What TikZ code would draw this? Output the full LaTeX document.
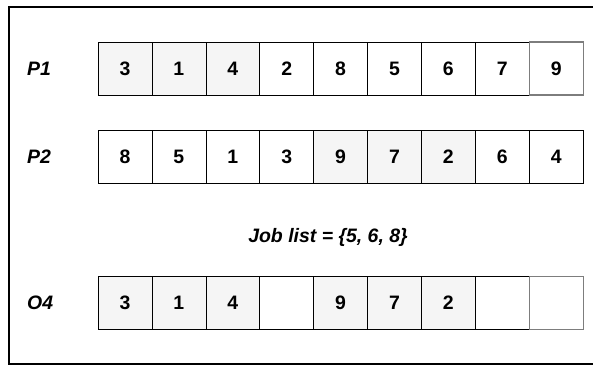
\documentclass[tikz,border=0pt]{standalone}
\usepackage{fontspec}
\setmainfont{Liberation Sans}
\definecolor{donec}{RGB}{245,245,245}
\definecolor{edgec}{RGB}{125,125,125}

\begin{document}
\begin{tikzpicture}[x=0.03cm,y=-0.03cm,font=\fontsize{16.6}{19}\selectfont\bfseries,
  cell/.style={draw=black,line width=0.6pt,minimum width=1.617cm,minimum height=1.59cm,inner sep=0pt},
  kept/.style={cell,fill=donec},
  loose/.style={cell,draw=edgec,line width=0.9pt},
  rowlabel/.style={anchor=west,inner sep=0pt,font=\fontsize{16.6}{19}\selectfont\bfseries\itshape}]
\useasboundingbox (0,0) rectangle (593,366);

% frame, open on the right
\draw[line width=2pt] (593,7) -- (9,7) -- (9,364) -- (593,364);

%================= parents =================
\node[rowlabel] (lp1) at (27,68.5) {P1};
\foreach \v/\s [count=\i] in {3/kept,1/kept,4/kept,2/cell,8/cell,5/cell,6/cell,7/cell,9/loose}{
  \node[\s] (p1c\i) at ({71.1+53.9*\i},68.5) {\v};}

\node[rowlabel] (lp2) at (27,156.5) {P2};
\foreach \v/\s [count=\i] in {8/cell,5/cell,1/cell,3/cell,9/kept,7/kept,2/kept,6/cell,4/cell}{
  \node[\s] (p2c\i) at ({71.1+53.9*\i},156.5) {\v};}

\node (jobs) at (328,237) {\itshape Job list = \{5, 6, 8\}};

%================= offspring =================
\node[rowlabel] (lo4) at (27,303) {O4};
\foreach \v/\s [count=\i] in {3/kept,1/kept,4/kept,/cell,9/kept,7/kept,2/kept,/cell,/loose}{
  \node[\s] (o4c\i) at ({71.1+53.9*\i},303) {\v};}
\end{tikzpicture}
\end{document}
